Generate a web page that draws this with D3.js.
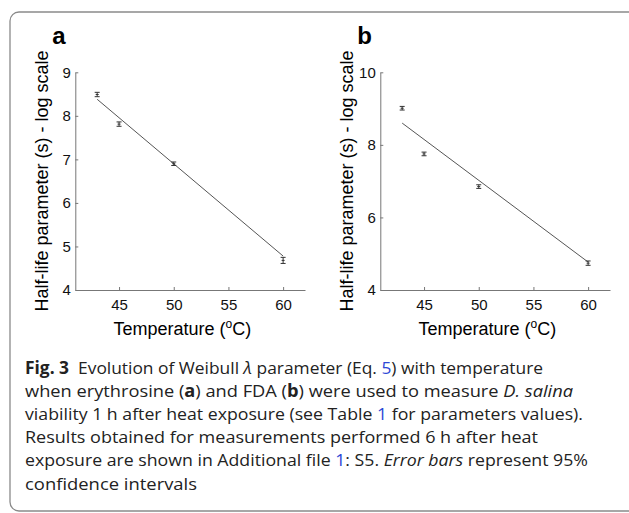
<!DOCTYPE html>
<html>
<head>
<meta charset="utf-8">
<script src="https://cdn.jsdelivr.net/npm/d3@7"></script>
<style>
  body { margin: 0; background: #fff; }
  svg text { font-family: 'Liberation Sans', Arial, sans-serif; }
  .caption text { font-family: 'Open Sans', 'Noto Sans', sans-serif; }
</style>
</head>
<body>
<div id="chart"></div>
<script>
// Temperatures (deg C) for the measured points
const temps = [43, 45, 50, 60];
// Panel a (erythrosine): half-life parameter, log scale, with 95% CI half width
const halfLifeA = [8.49, 7.81, 6.90, 4.68];
const errA = [0.05, 0.05, 0.04, 0.07];
// Panel b (FDA)
const halfLifeB = [9.01, 7.75, 6.85, 4.74];
const errB = [0.05, 0.05, 0.05, 0.06];
// Fitted straight lines (end points)
const fitTemps = [43, 60];
const fitA = [8.38, 4.78];
const fitB = [8.60, 4.77];
// Tick labels
const xTicks = [45, 50, 55, 60];
const yTicksA = [4, 5, 6, 7, 8, 9];
const yTicksB = [4, 6, 8, 10];

const width = 629;
const height = 513;

const svg = d3.select('#chart')
  .append('svg')
  .attr('width', width)
  .attr('height', height);

// Rounded frame round the figure
svg.append('rect')
  .attr('x', 10)
  .attr('y', 12)
  .attr('width', 640)
  .attr('height', 499)
  .attr('rx', 9)
  .attr('fill', 'none')
  .attr('stroke', '#8a8a8a')
  .attr('stroke-width', 1.3);

const panels = [
  { label: 'a', left: 75.3, right: 305, yDomain: [4, 9], yTicks: yTicksA, values: halfLifeA, errs: errA, fit: fitA },
  { label: 'b', left: 380.3, right: 610, yDomain: [4, 10], yTicks: yTicksB, values: halfLifeB, errs: errB, fit: fitB },
];

const plotTop = 72.3;
const plotBottom = 290;

panels.forEach((p) => {
  const g = svg.append('g');
  const x = d3.scaleLinear().domain([41, 62]).range([p.left, p.right]);
  const y = d3.scaleLinear().domain(p.yDomain).range([plotBottom, plotTop]);

  // Axes, ticks pointing inward
  const xAxis = g.append('g')
    .attr('transform', `translate(0,${plotBottom})`)
    .call(d3.axisBottom(x).tickValues(xTicks).tickFormat(d3.format('d'))
      .tickSizeInner(-3).tickSizeOuter(0).tickPadding(9));
  const yAxis = g.append('g')
    .attr('transform', `translate(${p.left},0)`)
    .call(d3.axisLeft(y).tickValues(p.yTicks).tickFormat(d3.format('d'))
      .tickSizeInner(-3).tickSizeOuter(0).tickPadding(4.5));

  [xAxis, yAxis].forEach((ax) => {
    ax.select('.domain').attr('stroke', '#777');
    ax.selectAll('.tick line').attr('stroke', '#777');
    ax.selectAll('.tick text')
      .attr('fill', '#111')
      .style('font-family', "'Liberation Sans', Arial, sans-serif")
      .style('font-size', '15px');
  });

  // Fitted line
  const line = d3.line()
    .x((d) => x(d[0]))
    .y((d) => y(d[1]));
  g.append('path')
    .datum(fitTemps.map((t, i) => [t, p.fit[i]]))
    .attr('d', line)
    .attr('fill', 'none')
    .attr('stroke', '#555')
    .attr('stroke-width', 1);

  // Error bars
  const pts = temps.map((t, i) => ({ t, v: p.values[i], e: p.errs[i] }));
  const bars = g.append('g')
    .selectAll('g')
    .data(pts)
    .enter()
    .append('g')
    .attr('stroke', '#333')
    .attr('stroke-width', 1);
  bars.append('line')
    .attr('x1', (d) => x(d.t)).attr('x2', (d) => x(d.t))
    .attr('y1', (d) => y(d.v - d.e)).attr('y2', (d) => y(d.v + d.e));
  bars.append('line')
    .attr('x1', (d) => x(d.t) - 2.5).attr('x2', (d) => x(d.t) + 2.5)
    .attr('y1', (d) => y(d.v + d.e)).attr('y2', (d) => y(d.v + d.e));
  bars.append('line')
    .attr('x1', (d) => x(d.t) - 2.5).attr('x2', (d) => x(d.t) + 2.5)
    .attr('y1', (d) => y(d.v - d.e)).attr('y2', (d) => y(d.v - d.e));
  bars.append('line')
    .attr('x1', (d) => x(d.t) - 1.5).attr('x2', (d) => x(d.t) + 1.5)
    .attr('y1', (d) => y(d.v)).attr('y2', (d) => y(d.v));

  // Panel letter
  g.append('text')
    .attr('x', p.left - 23)
    .attr('y', 44)
    .attr('font-size', '24px')
    .attr('font-weight', 'bold')
    .attr('fill', '#000')
    .text(p.label);

  // Y title
  g.append('text')
    .attr('transform', `translate(${p.left - 27.5},181) rotate(-90)`)
    .attr('text-anchor', 'middle')
    .attr('font-size', '18px')
    .attr('fill', '#000')
    .text('Half-life parameter (s) - log scale');

  // X title with superscript o
  const xt = g.append('text')
    .attr('x', p.left + 107)
    .attr('y', 335)
    .attr('text-anchor', 'middle')
    .attr('font-size', '18px')
    .attr('fill', '#000');
  xt.append('tspan').text('Temperature (');
  xt.append('tspan').attr('font-size', '12px').attr('dy', -7).text('o');
  xt.append('tspan').attr('dy', 7).text('C)');
});

// Caption
const captionLines = [
  [{ t: 'Fig. 3', b: true }, { t: '\u00a0\u00a0Evolution of Weibull ' }, { t: '\u03bb', i: true }, { t: ' parameter (Eq. ' }, { t: '5', c: true }, { t: ') with temperature' }],
  [{ t: 'when erythrosine (' }, { t: 'a', b: true }, { t: ') and FDA (' }, { t: 'b', b: true }, { t: ') were used to measure ' }, { t: 'D. salina', i: true }],
  [{ t: 'viability 1 h after heat exposure (see Table ' }, { t: '1', c: true }, { t: ' for parameters values).' }],
  [{ t: 'Results obtained for measurements performed 6 h after heat' }],
  [{ t: 'exposure are shown in Additional file ' }, { t: '1', c: true }, { t: ': S5. ' }, { t: 'Error bars', i: true }, { t: ' represent 95%' }],
  [{ t: 'confidence intervals' }],
];
const captionEnds = [543, 573, 583, 538, 588, 197];
const captionLeft = 25;

const cap = svg.append('g').attr('class', 'caption');
captionLines.forEach((parts, i) => {
  const txt = cap.append('text')
    .attr('x', captionLeft)
    .attr('y', 374 + i * 23.1)
    .attr('font-size', '17px')
    .attr('fill', '#222');
  parts.forEach((s) => {
    txt.append('tspan')
      .attr('font-weight', s.b ? 'bold' : null)
      .attr('font-style', s.i ? 'italic' : null)
      .attr('fill', s.c ? '#2d48d6' : null)
      .text(s.t);
  });
  txt.attr('textLength', captionEnds[i] - captionLeft)
    .attr('lengthAdjust', 'spacingAndGlyphs');
});
</script>
</body>
</html>
